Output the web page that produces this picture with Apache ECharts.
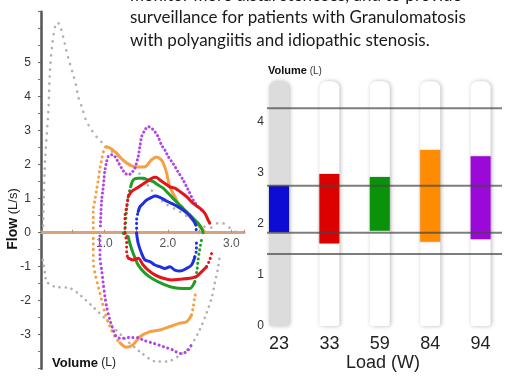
<!DOCTYPE html>
<html>
<head>
<meta charset="utf-8">
<script src="https://cdn.jsdelivr.net/npm/echarts@6/dist/echarts.min.js"></script>
<style>
  html, body { margin: 0; padding: 0; background: #fff; }
  #chart { width: 506px; height: 382px; }
</style>
</head>
<body>
<div id="chart"></div>
<script>
// flow-volume loops, [volume L, flow L/s]
const greyExp = [[0.03,0],[0.063,2.08],[0.115,3.55],[0.142,4.79],[0.184,5.62],[0.247,6.18],[0.288,6.14],[0.351,5.75],[0.394,5.40],[0.43,5.14],[0.509,4.64],[0.551,4.34],[0.587,4.0],[0.641,3.71],[0.709,3.31],[0.798,3.02],[0.877,2.82],[1.035,2.52],[1.244,2.20],[1.48,1.90],[1.717,1.31],[1.95,0.87],[2.19,0.62],[2.39,0.37],[2.66,0.14],[2.82,0.31],[2.98,0.14],[3.07,0.02]];
const greyInsp = [[0.027,-0.80],[0.063,-1.19],[0.09,-1.44],[0.22,-1.59],[0.457,-1.63],[0.614,-1.83],[0.819,-2.18],[1.035,-2.57],[1.29,-3.06],[1.56,-3.5],[1.82,-3.79],[1.98,-3.79],[2.19,-3.6],[2.35,-3.35],[2.5,-2.86],[2.61,-2.36],[2.69,-1.92],[2.74,-1.48],[2.79,-1.04],[2.82,-0.66]];

const orangeExp = [[0.824,0],[0.824,0.67],[0.85,0.96],[0.877,1.26],[0.902,1.55],[0.929,1.90],[0.956,2.14],[0.992,2.43],[1.024,2.53],[1.087,2.49],[1.19,2.34],[1.29,2.14],[1.40,1.99],[1.53,1.93],[1.64,1.94],[1.74,2.14],[1.82,2.23],[1.90,2.14],[1.95,1.94],[1.98,1.76],[2.03,1.35],[2.11,1.06],[2.19,0.76],[2.29,0.58],[2.39,0.37],[2.50,0.18],[2.58,0.03]];
const orangeInsp = [[0.824,0],[0.824,-0.31],[0.824,-0.85],[0.85,-1.19],[0.902,-1.59],[0.956,-1.98],[1.008,-2.36],[1.087,-2.76],[1.165,-3.06],[1.244,-3.24],[1.35,-3.37],[1.449,-3.30],[1.559,-3.06],[1.717,-2.91],[1.874,-2.86],[2.031,-2.76],[2.189,-2.66],[2.295,-2.62],[2.373,-2.42],[2.40,-2.18],[2.425,-1.88],[2.45,-1.69]];

const purpleExp = [[0.937,0.2],[0.956,0.96],[0.976,1.26],[0.992,1.55],[1.008,1.84],[1.035,2.09],[1.06,2.24],[1.113,2.29],[1.165,2.24],[1.213,2.09],[1.27,1.90],[1.323,1.76],[1.375,1.70],[1.428,1.76],[1.48,1.90],[1.532,2.24],[1.559,2.53],[1.586,2.82],[1.638,3.02],[1.69,3.12],[1.743,3.07],[1.795,2.97],[1.847,2.82],[1.90,2.58],[1.953,2.43],[2.005,2.24],[2.08,2.04],[2.16,1.79],[2.24,1.55],[2.32,1.26],[2.40,0.96],[2.477,0.76],[2.53,0.67]];
const purpleInsp = [[0.929,-0.1],[0.929,-0.71],[0.956,-1.10],[0.98,-1.48],[1.008,-1.88],[1.035,-2.18],[1.087,-2.57],[1.139,-2.86],[1.19,-3.06],[1.27,-3.11],[1.40,-3.08],[1.53,-3.08],[1.61,-3.16],[1.77,-3.25],[1.926,-3.35],[2.08,-3.45],[2.19,-3.55],[2.295,-3.50],[2.373,-3.30]];

const greenExp = [[1.323,0.02],[1.35,0.67],[1.375,1.06],[1.413,1.35],[1.454,1.55],[1.53,1.60],[1.61,1.60],[1.69,1.55],[1.77,1.50],[1.847,1.40],[1.926,1.31],[2.005,1.16],[2.083,1.01],[2.162,0.86],[2.24,0.72],[2.32,0.57],[2.40,0.42],[2.477,0.28],[2.53,0.13],[2.556,0]];
const greenInsp = [[1.296,-0.02],[1.375,-0.12],[1.40,-0.31],[1.454,-0.61],[1.532,-0.95],[1.638,-1.19],[1.77,-1.37],[1.926,-1.51],[2.083,-1.61],[2.24,-1.64],[2.346,-1.64],[2.425,-1.44],[2.46,-1.10],[2.477,-0.80],[2.50,-0.51],[2.53,-0.21]];

const redExp = [[1.323,0],[1.323,0.47],[1.35,0.76],[1.375,1.06],[1.428,1.21],[1.507,1.31],[1.586,1.40],[1.665,1.50],[1.743,1.60],[1.81,1.63],[1.874,1.55],[1.953,1.45],[2.031,1.35],[2.11,1.31],[2.19,1.21],[2.295,1.06],[2.40,0.86],[2.504,0.72],[2.583,0.57],[2.635,0.37],[2.66,0.28]];
const redInsp = [[1.323,-0.02],[1.35,-0.31],[1.35,-0.61],[1.375,-0.75],[1.454,-0.80],[1.532,-0.75],[1.61,-0.95],[1.69,-1.10],[1.795,-1.24],[1.926,-1.34],[2.058,-1.39],[2.189,-1.37],[2.346,-1.34],[2.45,-1.29],[2.53,-1.15],[2.61,-1.0],[2.66,-0.80],[2.69,-0.61]];

const blueExp = [[1.507,0],[1.507,0.37],[1.532,0.62],[1.559,0.76],[1.61,0.86],[1.665,0.96],[1.743,1.04],[1.795,1.08],[1.874,1.04],[1.953,0.96],[2.005,0.91],[2.083,0.84],[2.162,0.76],[2.24,0.67],[2.32,0.55],[2.40,0.37],[2.44,0.23],[2.45,0]];
const blueInsp = [[1.507,-0.02],[1.532,-0.31],[1.586,-0.61],[1.638,-0.80],[1.717,-0.85],[1.795,-0.95],[1.874,-1.0],[1.953,-1.05],[2.031,-1.0],[2.11,-1.10],[2.19,-1.13],[2.295,-1.05],[2.373,-0.95],[2.425,-0.71],[2.45,-0.51],[2.45,-0.21]];

// bar panel
const loads = ['23', '33', '59', '84', '94'];
const volLow = [1.84, 1.62, 1.87, 1.65, 1.70];
const volHigh = [2.75, 2.98, 2.92, 3.45, 3.33];
const refLines = [4.27, 2.75, 1.83, 1.41];
const volMax = 4.8;

const textLines = [
  'monitor more distal stenoses, and to provide',
  'surveillance for patients with Granulomatosis',
  'with polyangiitis and idiopathic stenosis.'
];

const C = {
  grey: '#b0b0b0', orange: '#f6a043', purple: '#b044e4',
  green: '#1f9d25', red: '#e3151b', blue: '#2030e0'
};
const barColors = ['#0c0cd4', '#dc0000', '#0a930a', '#ff8c00', '#9c08d8'];

function loop(data, color, dotted, gap, w) {
  return {
    type: 'line', xAxisIndex: 0, yAxisIndex: 0, data: data,
    smooth: 0.3, symbol: 'none', silent: true,
    lineStyle: dotted
      ? { color: color, width: w || 3, type: [0.1, gap || 4.5], cap: 'round' }
      : { color: color, width: w || 3, cap: 'round', join: 'round' }
  };
}

var chart = echarts.init(document.getElementById('chart'));

var series = [
  loop(greyExp, C.grey, true, 7, 2.6),
  loop(greyInsp, C.grey, true, 6, 2.6),
  loop(orangeExp.slice(0, 9), C.orange, true, 5),
  loop(orangeExp.slice(8), C.orange, false),
  loop(orangeInsp.slice(0, 10), C.orange, true, 5.5),
  loop(orangeInsp.slice(9, 19), C.orange, false),
  loop(orangeInsp.slice(18), C.orange, true, 5),
  loop(purpleExp, C.purple, true, 4),
  loop(purpleInsp, C.purple, true, 4.5),
  loop(greenExp.slice(0, 4), C.green, true, 4.5),
  loop(greenExp.slice(3), C.green, false),
  loop(greenInsp.slice(0, 2), C.green, true, 4.5),
  loop(greenInsp.slice(1, 12), C.green, false),
  loop(greenInsp.slice(11), C.green, true, 4.5),
  loop(redExp.slice(0, 4), C.red, true, 4.5),
  loop(redExp.slice(3), C.red, false),
  loop(redInsp.slice(0, 4), C.red, true, 4.5),
  loop(redInsp.slice(3, 16), C.red, false),
  loop(redInsp.slice(15), C.red, true, 4.5),
  loop(blueExp.slice(0, 3), C.blue, true, 4.5),
  loop(blueExp.slice(2, 17), C.blue, false),
  loop(blueExp.slice(16), C.blue, true, 4.5),
  loop(blueInsp.slice(0, 14), C.blue, false),
  loop(blueInsp.slice(13), C.blue, true, 4.5),

  // bar tracks
  {
    type: 'bar', xAxisIndex: 1, yAxisIndex: 1, barWidth: 20, barGap: '-100%',
    data: loads.map(() => volMax), silent: true,
    itemStyle: {
      color: p => p.dataIndex === 0 ? '#dcdcdc' : '#ffffff',
      borderRadius: [7, 7, 3, 3],
      shadowBlur: 4, shadowColor: 'rgba(0,0,0,0.28)', shadowOffsetX: 1
    }
  },
  {
    type: 'bar', xAxisIndex: 1, yAxisIndex: 1, barWidth: 20, barGap: '-100%',
    stack: 'v', data: volLow, itemStyle: { color: 'transparent' }, silent: true
  },
  {
    type: 'bar', xAxisIndex: 1, yAxisIndex: 1, barWidth: 20, barGap: '-100%',
    stack: 'v', data: volHigh.map((h, i) => +(h - volLow[i]).toFixed(2)), silent: true,
    itemStyle: {
      color: p => barColors[p.dataIndex],
      shadowBlur: 2, shadowColor: 'rgba(0,0,0,0.25)'
    }
  }
];

refLines.forEach(v => {
  series.push({
    type: 'line', xAxisIndex: 2, yAxisIndex: 2, data: [[0, v], [1, v]],
    symbol: 'none', silent: true, z: 5,
    lineStyle: { color: 'rgba(70,70,70,0.7)', width: 2 }
  });
});

var option = {
  animation: false,
  grid: [
    { left: 41, top: 11.7, width: 203, height: 357 },
    { left: 253.8, top: 81.2, width: 252, height: 244.8 },
    { left: 267, top: 81.2, width: 235, height: 244.8 }
  ],
  xAxis: [
    {
      // moved up from the grid bottom to flow = 0
      gridIndex: 0, type: 'value', min: 0, max: 3.2, interval: 0.5, offset: -136,
      axisLine: { onZero: false, lineStyle: { color: '#d6a286', width: 3 } },
      axisTick: { show: true, inside: true, length: 3, lineStyle: { color: '#c08a6c' } },
      splitLine: { show: false },
      axisLabel: {
        color: '#555', fontSize: 12, margin: 5, fontFamily: 'Liberation Sans',
        formatter: v => (v > 0 && v % 1 === 0) ? v.toFixed(1) : ''
      }
    },
    {
      gridIndex: 1, type: 'category', data: loads,
      axisLine: { show: false }, axisTick: { show: false },
      axisLabel: { color: '#222', fontSize: 18, margin: 9, fontFamily: 'Liberation Sans' }
    },
    { gridIndex: 2, type: 'value', min: 0, max: 1, show: false }
  ],
  yAxis: [
    {
      gridIndex: 0, type: 'value', min: -4, max: 6.5, interval: 1,
      axisLine: { show: true, lineStyle: { color: '#555', width: 2.5 } },
      axisTick: { show: true, length: 3, lineStyle: { color: '#666' } },
      minorTick: { show: true, splitNumber: 2, length: 3, lineStyle: { color: '#777' } },
      splitLine: { show: false },
      axisLabel: {
        color: '#333', fontSize: 12, margin: 10, fontFamily: 'Liberation Sans',
        formatter: v => (v >= -3 && v <= 5) ? String(v) : ''
      }
    },
    {
      gridIndex: 1, type: 'value', min: 0, max: volMax, interval: 1,
      axisLine: { show: false }, axisTick: { show: false }, splitLine: { show: false },
      axisLabel: {
        color: '#333', fontSize: 12, margin: -10, fontFamily: 'Liberation Sans',
        formatter: v => v % 1 === 0 ? String(v) : ''
      }
    },
    { gridIndex: 2, type: 'value', min: 0, max: volMax, show: false }
  ],
  graphic: [
    ...textLines.map((t, i) => ({
      type: 'text', x: 130, y: -4.5 + i * 22.3, silent: true,
      style: { text: t, font: '17px Lato', fill: '#1a1a1a', align: 'left', verticalAlign: 'middle' }
    })),
    {
      type: 'text', x: 13, y: 219, rotation: Math.PI / 2, silent: true,
      style: {
        text: '{b|Flow} (L/s)', align: 'center', verticalAlign: 'middle',
        font: '13px "Liberation Sans"', fill: '#222',
        rich: { b: { fontWeight: 'bold', fontSize: 14, fill: '#111' } }
      }
    },
    {
      type: 'text', x: 52, y: 363, silent: true,
      style: {
        text: '{b|Volume} (L)', align: 'left', verticalAlign: 'middle',
        font: '12px "Liberation Sans"', fill: '#222',
        rich: { b: { fontWeight: 'bold', fontSize: 13, fill: '#111' } }
      }
    },
    {
      type: 'text', x: 268, y: 71, silent: true,
      style: {
        text: '{b|Volume} (L)', align: 'left', verticalAlign: 'middle',
        font: '10px "Liberation Sans"', fill: '#333',
        rich: { b: { fontWeight: 'bold', fontSize: 11, fill: '#111' } }
      }
    },
    {
      type: 'text', x: 383, y: 363, silent: true,
      style: { text: 'Load (W)', align: 'center', verticalAlign: 'middle', font: '18px "Liberation Sans"', fill: '#222' }
    }
  ],
  series: series
};

option && chart.setOption(option);
</script>
</body>
</html>
